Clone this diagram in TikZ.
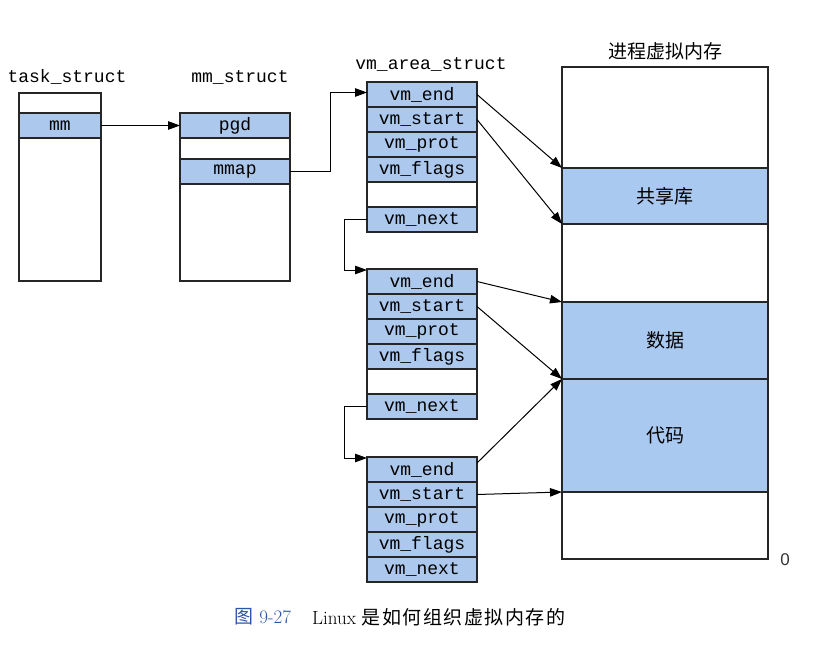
\documentclass[tikz,border=0pt]{standalone}
\usepackage{fontspec}
\setmonofont{Liberation Mono}
\newfontfamily\cjk{Noto Sans CJK SC}
\newfontfamily\digitfont{Liberation Sans}
\usetikzlibrary{arrows.meta,positioning}
\definecolor{fieldblue}{RGB}{172,200,236}
\definecolor{memblue}{RGB}{170,201,240}
\definecolor{capblue}{RGB}{45,85,165}
\tikzset{
  field/.style={
    rectangle,
    draw=black!85,
    line width=1.1pt,
    fill=fieldblue,
    minimum width=110pt,
    minimum height=25pt,
    inner sep=0pt,
    outer sep=0pt,
    font=\fontsize{18}{20}\selectfont\ttfamily
  },
  blankfield/.style={
    field,
    fill=white
  },
  structbox/.style={
    rectangle,
    draw=black!85,
    line width=1.1pt,
    fill=white,
    inner sep=0pt,
    outer sep=0pt
  },
  membox/.style={
    structbox,
    minimum width=206pt
  },
  region/.style={
    membox,
    fill=memblue,
    font=\fontsize{19}{22}\selectfont\cjk
  },
  structname/.style={
    font=\fontsize{18}{20}\selectfont\ttfamily
  },
  arrow/.style={
    -{Triangle[length=12pt,width=8.5pt]},
    line width=1pt,
    draw=black
  }
}

\begin{document}
\begin{tikzpicture}[x=1pt,y=-1pt]
  \useasboundingbox[fill=white] (0,0) rectangle (823,653);

  % task_struct and mm_struct
  \node[structname] (tasklbl) at (67,77) {task\_struct};
  \node[structbox, anchor=north west, minimum width=82pt, minimum height=188pt] (task) at (19,93) {};
  \node[field, minimum width=82pt, below=20pt of task.north] (mm) {mm};

  \node[structname] (mmlbl) at (240,77) {mm\_struct};
  \node[structbox, anchor=north west, minimum width=110pt, minimum height=168pt] (mmbox) at (180,113) {};
  \node[field, below=0pt of mmbox.north] (pgd) {pgd};
  \node[field, below=21pt of pgd] (mmap) {mmap};

  % vm_area_struct list
  \node[structname] (vmlbl) at (431,64) {vm\_area\_struct};
  \node[field, anchor=north west] (endA) at (367,82) {vm\_end};
  \node[field, below=0pt of endA] (startA) {vm\_start};
  \node[field, below=0pt of startA] (protA) {vm\_prot};
  \node[field, below=0pt of protA] (flagsA) {vm\_flags};
  \node[blankfield, below=0pt of flagsA] (gapA) {};
  \node[field, below=0pt of gapA] (nextA) {vm\_next};

  \node[field, anchor=north west] (endB) at (367,269) {vm\_end};
  \node[field, below=0pt of endB] (startB) {vm\_start};
  \node[field, below=0pt of startB] (protB) {vm\_prot};
  \node[field, below=0pt of protB] (flagsB) {vm\_flags};
  \node[blankfield, below=0pt of flagsB] (gapB) {};
  \node[field, below=0pt of gapB] (nextB) {vm\_next};

  \node[field, anchor=north west] (endC) at (367,457) {vm\_end};
  \node[field, below=0pt of endC] (startC) {vm\_start};
  \node[field, below=0pt of startC] (protC) {vm\_prot};
  \node[field, below=0pt of protC] (flagsC) {vm\_flags};
  \node[field, below=0pt of flagsC] (nextC) {vm\_next};

  % process virtual memory
  \node[membox, anchor=north west, minimum height=492pt] (mem) at (562,67) {};
  \node[font=\fontsize{19}{22}\selectfont\cjk, above=3pt of mem] (memlbl) {进程虚拟内存};
  \node[region, anchor=north west, minimum height=56pt] (shared) at (562,168) {共享库};
  \node[region, anchor=north west, minimum height=77pt] (data) at (562,302) {数据};
  \node[region, below=0pt of data, minimum height=113pt] (code) {代码};
  \node[font=\fontsize{17}{19}\selectfont\digitfont, text=black!80] (zero) at (785,560) {0};

  % links
  \draw[arrow] (mm) -- (pgd);
  \draw[arrow] (mmap.east) -- ++(40,0) |- ([yshift=2pt]endA.west);
  \draw[arrow] (nextA.west) -- ++(-23,0) |- ([yshift=-1pt]endB.north west);
  \draw[arrow] (nextB.west) -- ++(-23,0) |- ([yshift=-1pt]endC.north west);

  \draw[arrow] (endA.east) -- (shared.north west);
  \draw[arrow] (startA.east) -- (shared.south west);
  \draw[arrow] (endB.east) -- (data.north west);
  \draw[arrow] (startB.east) -- (data.south west);
  \draw[arrow] ([yshift=-6pt]endC.north east) -- (code.north west);
  \draw[arrow] (startC.east) -- (code.south west);

  % caption
  \node[anchor=west, text=capblue, font=\fontsize{19}{22}\selectfont] (fignum) at (231,617) {{\cjk 图} 9-27};
  \node[right=14pt of fignum, font=\fontsize{19}{22}\selectfont] (figtext) {Linux {\cjk\addfontfeatures{LetterSpace=8} 是如何组织虚拟内存的}};
\end{tikzpicture}
\end{document}
